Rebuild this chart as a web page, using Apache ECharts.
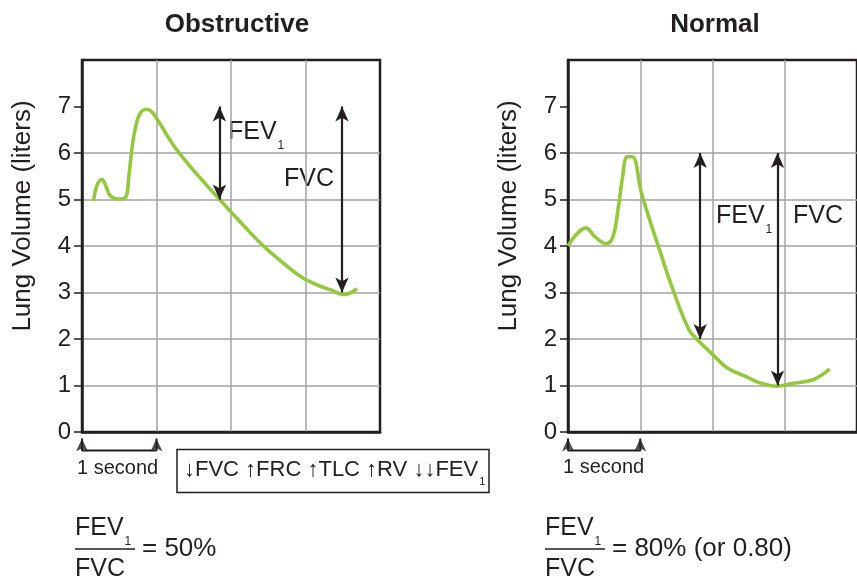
<!DOCTYPE html>
<html>
<head>
<meta charset="utf-8">
<script src="https://cdn.jsdelivr.net/npm/echarts@6/dist/echarts.min.js"></script>
<style>
  html, body { margin: 0; padding: 0; background: #fff; }
  #main { width: 857px; height: 576px; }
</style>
</head>
<body>
<div id="main"></div>
<script>
// traces: time in seconds, lung volume in liters
const obstructiveTime = [0.156, 0.2, 0.268, 0.33, 0.38, 0.49, 0.59, 0.625, 0.67, 0.714, 0.78, 0.87, 0.94, 1.03, 1.23, 1.5, 1.83, 2.1, 2.39, 2.65, 2.93, 3.19, 3.35, 3.5, 3.6, 3.69];
const obstructiveVolume = [4.97, 5.3, 5.43, 5.25, 5.08, 5.01, 5.06, 5.44, 6.09, 6.52, 6.85, 6.94, 6.88, 6.67, 6.16, 5.62, 5.03, 4.56, 4.07, 3.7, 3.35, 3.14, 3.05, 2.96, 2.99, 3.08];
const normalTime = [0, 0.1, 0.245, 0.38, 0.53, 0.62, 0.69, 0.756, 0.82, 0.89, 1.02, 1.27, 1.45, 1.67, 1.78, 2.0, 2.2, 2.45, 2.65, 2.89, 3.1, 3.4, 3.62];
const normalVolume = [4.0, 4.22, 4.39, 4.19, 4.05, 4.19, 4.76, 5.49, 5.92, 5.92, 5.12, 3.9, 3.07, 2.21, 2.0, 1.67, 1.38, 1.2, 1.06, 0.985, 1.04, 1.13, 1.35];
const volumeTicks = [0, 1, 2, 3, 4, 5, 6, 7];

// double arrows: [time, from volume, to volume]
const obstructiveFev1 = [1.845, 7, 5];
const obstructiveFvc = [3.49, 7, 3];
const normalFev1 = [1.83, 6, 2];
const normalFvc = [2.9, 6, 1];

// "1 second" bracket under the time axis
const oneSecond = [0, 1];
const bracketDepth = -0.4;
const bracketTip = -0.14;

const INK = '#231f20';
const GREEN = '#95c93d';
const FONT = 'Liberation Sans, Arial, Helvetica, sans-serif';

const chart = echarts.init(document.getElementById('main'));

function pairs(xs, ys) {
  return xs.map((x, i) => [x, ys[i]]);
}

function arrow(a) {
  return [{ coord: [a[0], a[1]] }, { coord: [a[0], a[2]] }];
}

function xAxis(gridIndex) {
  return {
    type: 'value', gridIndex, min: 0, max: 4, interval: 1,
    axisLine: { lineStyle: { color: INK, width: 2.5 } },
    axisTick: { show: false },
    axisLabel: { show: false },
    splitLine: { showMinLine: false, showMaxLine: false, lineStyle: { color: '#a3a3a3', width: 1.5 } }
  };
}

function yAxis(gridIndex) {
  return {
    type: 'value', gridIndex, min: 0, max: 8, interval: 1,
    name: 'Lung Volume (liters)',
    nameLocation: 'middle',
    nameRotate: 90,
    nameGap: 46,
    nameTextStyle: { fontFamily: FONT, fontSize: 26, color: INK, padding: [0, 0, 0, 60] },
    axisLine: { lineStyle: { color: INK, width: 2.5 } },
    axisTick: { show: true, length: 8, lineStyle: { color: INK, width: 1.5 }, customValues: volumeTicks },
    axisLabel: { fontFamily: FONT, fontSize: 24, color: INK, margin: 11, customValues: volumeTicks },
    splitLine: { showMinLine: false, showMaxLine: false, lineStyle: { color: '#a3a3a3', width: 1.5 } }
  };
}

function trace(name, xs, ys, idx, arrows) {
  return {
    name, type: 'line', xAxisIndex: idx, yAxisIndex: idx,
    data: pairs(xs, ys),
    smooth: 0.4, showSymbol: false, silent: true,
    lineStyle: { color: GREEN, width: 3.6 },
    z: 3,
    markLine: {
      silent: true,
      symbol: ['arrow', 'arrow'],
      symbolSize: [10, 15],
      label: { show: false },
      lineStyle: { color: INK, width: 2.2, type: 'solid' },
      emphasis: { disabled: true },
      data: arrows.map(arrow)
    }
  };
}

function bracket(idx) {
  return [{
    type: 'line', xAxisIndex: idx, yAxisIndex: idx, clip: false, silent: true,
    showSymbol: false,
    data: [[oneSecond[0], bracketTip], [oneSecond[0], bracketDepth], [oneSecond[1], bracketDepth], [oneSecond[1], bracketTip]],
    lineStyle: { color: INK, width: 2 }
  }, {
    type: 'scatter', xAxisIndex: idx, yAxisIndex: idx, clip: false, silent: true,
    symbol: 'arrow', symbolSize: [9, 13],
    data: oneSecond.map(t => [t, bracketTip]),
    itemStyle: { color: INK }
  }];
}

const ctx = document.createElement('canvas').getContext('2d');
function measure(str, font) {
  ctx.font = font;
  return ctx.measureText(str).width;
}

// text with a subscript "1" right after it
function subbed(main, x, y, size, subSize) {
  const font = size + 'px ' + FONT;
  const w = measure(main, font);
  return [
    { type: 'text', x, y, style: { text: main, font, fill: INK, verticalAlign: 'middle' } },
    { type: 'text', x: x + w + 1, y: y + size * 0.55, style: { text: '1', font: subSize + 'px ' + FONT, fill: INK, verticalAlign: 'middle' } }
  ];
}

function plain(text, x, y, size, opts) {
  return {
    type: 'text', x, y,
    style: Object.assign({ text, font: size + 'px ' + FONT, fill: INK, verticalAlign: 'middle', align: 'left' }, opts || {})
  };
}

function fraction(x, rest) {
  return subbed('FEV', x, 528, 25, 12).concat([
    { type: 'line', shape: { x1: x, y1: 549, x2: x + 60, y2: 549 }, style: { stroke: INK, lineWidth: 1.5 } },
    plain('FVC', x, 569, 25),
    plain(rest, x + 67, 549, 26)
  ]);
}

const graphics = [
  plain('Obstructive', 237, 25, 26, { align: 'center', font: 'bold 26px ' + FONT }),
  plain('Normal', 715, 25, 26, { align: 'center', font: 'bold 26px ' + FONT })
]
  .concat(subbed('FEV', 228, 132, 25, 12))
  .concat([plain('FVC', 284, 179, 25)])
  .concat(subbed('FEV', 716, 216, 25, 12))
  .concat([plain('FVC', 793, 216, 25)])
  .concat([
    plain('1 second', 77, 468, 20),
    plain('1 second', 563, 467, 20),
    { type: 'rect', shape: { x: 177, y: 449.5, width: 312, height: 43 }, style: { fill: 'none', stroke: INK, lineWidth: 1.5 } }
  ])
  .concat(subbed('\u2193FVC \u2191FRC \u2191TLC \u2191RV \u2193\u2193FEV', 184, 470, 22, 11))
  .concat(fraction(75, '= 50%'))
  .concat(fraction(545, '= 80% (or 0.80)'));

chart.setOption({
  animation: false,
  backgroundColor: '#fff',
  grid: [
    { left: 82, top: 60, width: 298, height: 372, show: true, borderColor: INK, borderWidth: 2.5, backgroundColor: 'transparent' },
    { left: 568, top: 60, width: 300, height: 372, show: true, borderColor: INK, borderWidth: 2.5, backgroundColor: 'transparent' }
  ],
  xAxis: [xAxis(0), xAxis(1)],
  yAxis: [yAxis(0), yAxis(1)],
  series: [
    trace('Obstructive', obstructiveTime, obstructiveVolume, 0, [obstructiveFev1, obstructiveFvc]),
    trace('Normal', normalTime, normalVolume, 1, [normalFev1, normalFvc])
  ].concat(bracket(0)).concat(bracket(1)),
  graphic: graphics
});
</script>
</body>
</html>
